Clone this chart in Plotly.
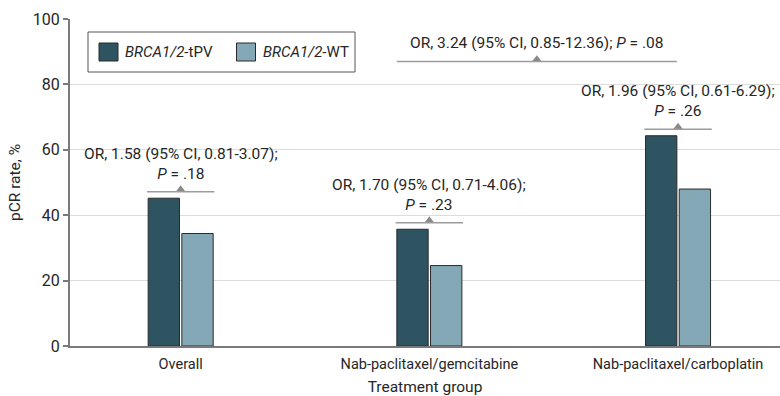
import plotly.graph_objects as go

# pCR rate by treatment group and BRCA1/2 status
groups = ["Overall", "Nab-paclitaxel/gemcitabine", "Nab-paclitaxel/carboplatin"]
tpv_rate = [45.2, 35.7, 64.3]
wt_rate = [34.4, 24.6, 48.0]

series_names = ["<i>BRCA1/2</i>-tPV", "<i>BRCA1/2</i>-WT"]

# within-group comparisons (tPV vs WT)
group_or_text = [
    "OR, 1.58 (95% CI, 0.81-3.07);<br><i>P</i> = .18",
    "OR, 1.70 (95% CI, 0.71-4.06);<br><i>P</i> = .23",
    "OR, 1.96 (95% CI, 0.61-6.29);<br><i>P</i> = .26",
]
# between-regimen comparison of tPV patients (gemcitabine vs carboplatin)
cross_or_text = "OR, 3.24 (95% CI, 0.85-12.36); <i>P</i> = .08"
cross_pair = [1, 2]
cross_bracket_y = 87.0

y_ticks = [0, 20, 40, 60, 80, 100]

# ---- styling ----
FONT = "Roboto, Lato, sans-serif"
TXT = "#262626"
DARK = "#2e5461"
LIGHT = "#85a8b7"
EDGE = "#2a2a2a"
AXIS = "#7a7a7a"
GRID = "#dcdcdc"
BRACKET = "#9c9c9c"
TRI = "#8a8a8a"

W, H = 780, 396
ML, MR, MT, MB = 70, 0, 19, 50
X_RANGE = [-0.445, 2.41]
BARGAP = 0.729
GROUPGAP = 0.07
BRACKET_PAD = 2.0
TRI_SIZE = 8.5

plot_h = H - MT - MB
px_per_unit = plot_h / (y_ticks[-1] - y_ticks[0])
tri_lift = (TRI_SIZE / 4) / px_per_unit  # sit triangle base on the bracket line

half = (1 - BARGAP) / 2
inner_pad = half * GROUPGAP / 2
xpos = list(range(len(groups)))

fig = go.Figure()
fig.add_trace(go.Bar(x=xpos, y=tpv_rate, name=series_names[0],
                     marker=dict(color=DARK, line=dict(color=EDGE, width=1)),
                     showlegend=False))
fig.add_trace(go.Bar(x=xpos, y=wt_rate, name=series_names[1],
                     marker=dict(color=LIGHT, line=dict(color=EDGE, width=1)),
                     showlegend=False))

shapes = []
annotations = []
tri_x, tri_y = [], []
ann_font = dict(family=FONT, size=15.5, color=TXT)

# brackets over each tPV/WT pair
for i, (a, b) in enumerate(zip(tpv_rate, wt_rate)):
    yb = max(a, b) + BRACKET_PAD
    shapes.append(dict(type="line", xref="x", yref="y", x0=i - half, x1=i + half,
                       y0=yb, y1=yb, line=dict(color=BRACKET, width=1.5)))
    tri_x.append(i)
    tri_y.append(yb + tri_lift)
    annotations.append(dict(x=i, y=yb, xref="x", yref="y", text=group_or_text[i],
                            showarrow=False, yanchor="bottom", yshift=7,
                            font=ann_font))

# bracket across the tPV bars of the two regimens
xa = cross_pair[0] - half + inner_pad
xb = cross_pair[1] - inner_pad
shapes.append(dict(type="line", xref="x", yref="y", x0=xa, x1=xb,
                   y0=cross_bracket_y, y1=cross_bracket_y,
                   line=dict(color=BRACKET, width=1.5)))
tri_x.append((xa + xb) / 2)
tri_y.append(cross_bracket_y + tri_lift)
annotations.append(dict(x=(xa + xb) / 2, y=cross_bracket_y, xref="x", yref="y",
                        text=cross_or_text, showarrow=False, yanchor="bottom", yshift=8,
                        font=ann_font))

fig.add_trace(go.Scatter(x=tri_x, y=tri_y, mode="markers", showlegend=False,
                         hoverinfo="skip", cliponaxis=False,
                         marker=dict(symbol="triangle-up", size=TRI_SIZE, color=TRI,
                                     line=dict(width=0))))


# legend drawn as a boxed key in the upper left of the plot
def px_x(p):
    return (p - ML) / (W - ML - MR)


def px_y(p):
    return (H - MB - p) / plot_h


shapes.append(dict(type="rect", xref="paper", yref="paper",
                   x0=px_x(88), x1=px_x(355), y0=px_y(72), y1=px_y(32),
                   line=dict(color="#555555", width=1), fillcolor="white"))
for (sx0, sx1, tx), color, name in zip([(99, 118, 123), (236.5, 255.5, 260.5)],
                                        [DARK, LIGHT], series_names):
    shapes.append(dict(type="rect", xref="paper", yref="paper",
                       x0=px_x(sx0), x1=px_x(sx1), y0=px_y(61), y1=px_y(43),
                       line=dict(color=EDGE, width=1), fillcolor=color))
    annotations.append(dict(x=px_x(tx), y=px_y(52), xref="paper", yref="paper",
                            text=name, showarrow=False, xanchor="left", yanchor="middle",
                            font=dict(family=FONT, size=15, color=TXT)))

fig.update_layout(
    width=W, height=H,
    margin=dict(l=ML, r=MR, t=MT, b=MB),
    plot_bgcolor="white", paper_bgcolor="white",
    barmode="group", bargap=BARGAP, bargroupgap=GROUPGAP,
    shapes=shapes, annotations=annotations,
    font=dict(family=FONT, size=14, color=TXT),
    xaxis=dict(range=X_RANGE, tickvals=xpos, ticktext=groups,
               showline=True, linecolor=AXIS, linewidth=2,
               ticks="", showgrid=False, zeroline=False, ticklabelstandoff=4,
               tickfont=dict(family=FONT, size=14.5, color=TXT),
               title=dict(text="Treatment group", standoff=13,
                          font=dict(family=FONT, size=15.5, color=TXT))),
    yaxis=dict(range=[y_ticks[0], y_ticks[-1]], tickvals=y_ticks,
               showline=True, linecolor=AXIS, linewidth=2,
               ticks="outside", ticklen=5, tickcolor=AXIS, tickwidth=1.5,
               showgrid=True, gridcolor=GRID, gridwidth=1, zeroline=False,
               tickfont=dict(family=FONT, size=16, color=TXT),
               title=dict(text="pCR rate, %", standoff=8,
                          font=dict(family=FONT, size=15.5, color=TXT))),
)

fig.write_html("out.html")
